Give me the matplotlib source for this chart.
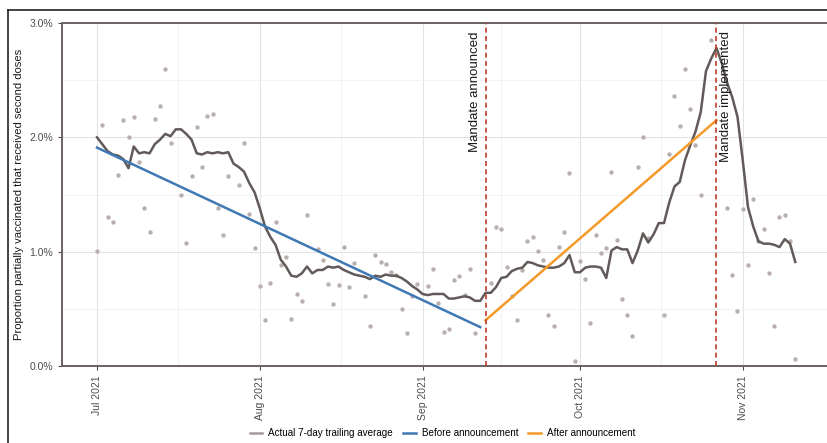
import numpy as np
import pandas as pd
import matplotlib
matplotlib.use("Agg")
import matplotlib.pyplot as plt
import matplotlib.dates as mdates
from matplotlib.lines import Line2D

plt.rcParams['font.family'] = ['Liberation Sans', 'DejaVu Sans']

# daily series, Jul 1 - Nov 11 2021 (values in percent)
dates = pd.date_range('2021-07-01', '2021-11-11', freq='D')
nan = np.nan
daily = [
    1.01, 2.11, 1.30, 1.26, 1.67, 2.15, 2.00, 2.18, 1.78, 1.38,
    1.17, 2.16, 2.27, 2.60, 1.95, nan, 1.50, 1.08, 1.66, 2.09,
    1.74, 2.19, 2.20, 1.38, 1.15, 1.66, nan, 1.58, 1.95, 1.33,
    1.03, 0.70, 0.40, 0.73, 1.26, 0.88, 0.95, 0.41, 0.63, 0.57,
    1.32, nan, 1.02, 0.93, 0.72, 0.54, 0.71, 1.04, 0.69, 0.90,
    nan, 0.61, 0.35, 0.97, 0.91, 0.89, 0.82, 0.80, 0.50, 0.29,
    0.61, 0.72, nan, 0.70, 0.85, 0.55, 0.30, 0.32, 0.75, 0.79,
    0.62, 0.85, 0.29, nan, nan, 0.73, 1.22, 1.20, 0.87, 0.61,
    0.40, 0.84, 1.09, 1.13, 1.01, 0.93, 0.45, 0.35, 1.04, 1.17,
    1.69, 0.04, 0.92, 0.76, 0.38, 1.15, 0.99, 1.03, 1.70, 1.10,
    0.59, 0.45, 0.26, 1.74, 2.00, 1.12, nan, nan, 0.45, 1.85,
    2.36, 2.10, 2.60, 2.25, 1.93, 1.50, nan, 2.85, nan, nan,
    1.38, 0.80, 0.48, 1.37, 0.88, 1.46, 1.09, 1.20, 0.81, 0.35,
    1.30, 1.32, 1.09, 0.06,
]
trailing = [
    2.00, 1.94, 1.88, 1.85, 1.84, 1.81, 1.73, 1.92, 1.86, 1.87,
    1.86, 1.94, 1.98, 2.03, 2.01, 2.07, 2.07, 2.03, 1.98, 1.86,
    1.85, 1.87, 1.86, 1.87, 1.86, 1.87, 1.77, 1.74, 1.70, 1.60,
    1.52, 1.38, 1.22, 1.13, 1.06, 0.93, 0.87, 0.79, 0.78, 0.81,
    0.87, 0.81, 0.84, 0.84, 0.87, 0.86, 0.87, 0.84, 0.82, 0.80,
    0.79, 0.78, 0.76, 0.79, 0.78, 0.80, 0.79, 0.79, 0.77, 0.74,
    0.70, 0.67, 0.63, 0.62, 0.63, 0.63, 0.63, 0.59, 0.59, 0.60,
    0.61, 0.60, 0.57, 0.57, 0.64, 0.64, 0.69, 0.77, 0.78, 0.83,
    0.85, 0.86, 0.91, 0.90, 0.88, 0.87, 0.86, 0.86, 0.87, 0.90,
    0.97, 0.82, 0.82, 0.86, 0.87, 0.87, 0.86, 0.77, 1.01, 1.04,
    1.02, 1.02, 0.90, 1.01, 1.16, 1.08, 1.15, 1.25, 1.25, 1.43,
    1.57, 1.61, 1.80, 1.93, 2.05, 2.22, 2.58, 2.69, 2.78, 2.65,
    2.48, 2.35, 2.18, 1.80, 1.39, 1.22, 1.09, 1.07, 1.07, 1.06,
    1.04, 1.11, 1.07, 0.91,
]

# fitted trend segments
before_dates = pd.to_datetime(['2021-07-01', '2021-09-12'])
before_vals = [1.91, 0.34]
after_dates = pd.to_datetime(['2021-09-13', '2021-10-27'])
after_vals = [0.40, 2.15]

announced = pd.Timestamp('2021-09-13')
implemented = pd.Timestamp('2021-10-27')

fig = plt.figure(figsize=(8.27, 4.43), dpi=100)
ax = fig.add_axes([62 / 827, 1 - 366 / 443, 765 / 827, 343 / 443])

ax.scatter(dates, daily, s=10, color='#b9afaf', linewidths=0, zorder=2)
ax.plot(dates, trailing, color='#625a59', lw=1.8, zorder=3)
ax.plot(before_dates, before_vals, color='#3f78b4', lw=1.8, zorder=4)
ax.plot(after_dates, after_vals, color='#f39a2b', lw=1.8, zorder=4)

for d in (announced, implemented):
    ax.axvline(d, color='#c0392b', ls=(0, (3, 2)), lw=1.2, zorder=5)
ax.text(announced - pd.Timedelta(days=0.8), 2.93, 'Mandate announced',
        rotation=90, ha='right', va='top', fontsize=9.5, color='#1a1a1a')
ax.text(implemented + pd.Timedelta(days=0.6), 2.93, 'Mandate implemented',
        rotation=90, ha='left', va='top', fontsize=9.5, color='#1a1a1a')

start = pd.Timestamp('2021-07-01')
ax.set_xlim(start - pd.Timedelta(days=6.67), start + pd.Timedelta(days=139.05))
ax.set_ylim(0, 3)

ax.xaxis.set_major_locator(mdates.MonthLocator())
ax.xaxis.set_major_formatter(mdates.DateFormatter('%b %Y'))
minor_dates = pd.to_datetime(['2021-07-16 12:00', '2021-08-16 12:00',
                              '2021-09-16 00:00', '2021-10-16 12:00'])
ax.set_xticks(minor_dates, minor=True)
ax.set_yticks([0, 1, 2, 3])
ax.set_yticklabels(['0.0%', '1.0%', '2.0%', '3.0%'])
ax.set_yticks([0.5, 1.5, 2.5], minor=True)

ax.grid(which='major', color='#e3e3e3', lw=0.8, zorder=0)
ax.grid(which='minor', color='#f0f0f0', lw=0.6, zorder=0)
ax.set_axisbelow(True)

plt.setp(ax.get_xticklabels(), rotation=90, ha='center', va='top')
ax.tick_params(axis='both', which='major', labelsize=7.5, colors='#4d4d4d',
               length=3, width=0.8, labelcolor='#4d4d4d')
ax.tick_params(which='minor', length=0)

for side in ('left', 'bottom', 'top'):
    ax.spines[side].set_color('#6a6262')
    ax.spines[side].set_linewidth(1.4)
ax.spines['right'].set_visible(False)

ax.set_ylabel('Proportion partially vaccinated that received second doses',
              fontsize=8.1, color='#1a1a1a', labelpad=4)

handles = [
    Line2D([], [], color='#a49a9a', lw=1.8),
    Line2D([], [], color='#3f78b4', lw=1.8),
    Line2D([], [], color='#f39a2b', lw=1.8),
]
labels = ['Actual 7-day trailing average', 'Before announcement', 'After announcement']
fig.legend(handles, labels, loc='center', bbox_to_anchor=(0.535, 1 - 433 / 443),
           ncol=3, frameon=False, handlelength=1.3, handletextpad=0.6,
           columnspacing=1.0, prop={'size': 7.1})

# outer frame of the screenshot
fig.add_artist(Line2D([8 / 827, 1], [1 - 10 / 443, 1 - 10 / 443], color='#222222', lw=1.2))
fig.add_artist(Line2D([8 / 827, 8 / 827], [0, 1 - 10 / 443], color='#222222', lw=1.2))

fig.savefig('out.png', dpi=100)
